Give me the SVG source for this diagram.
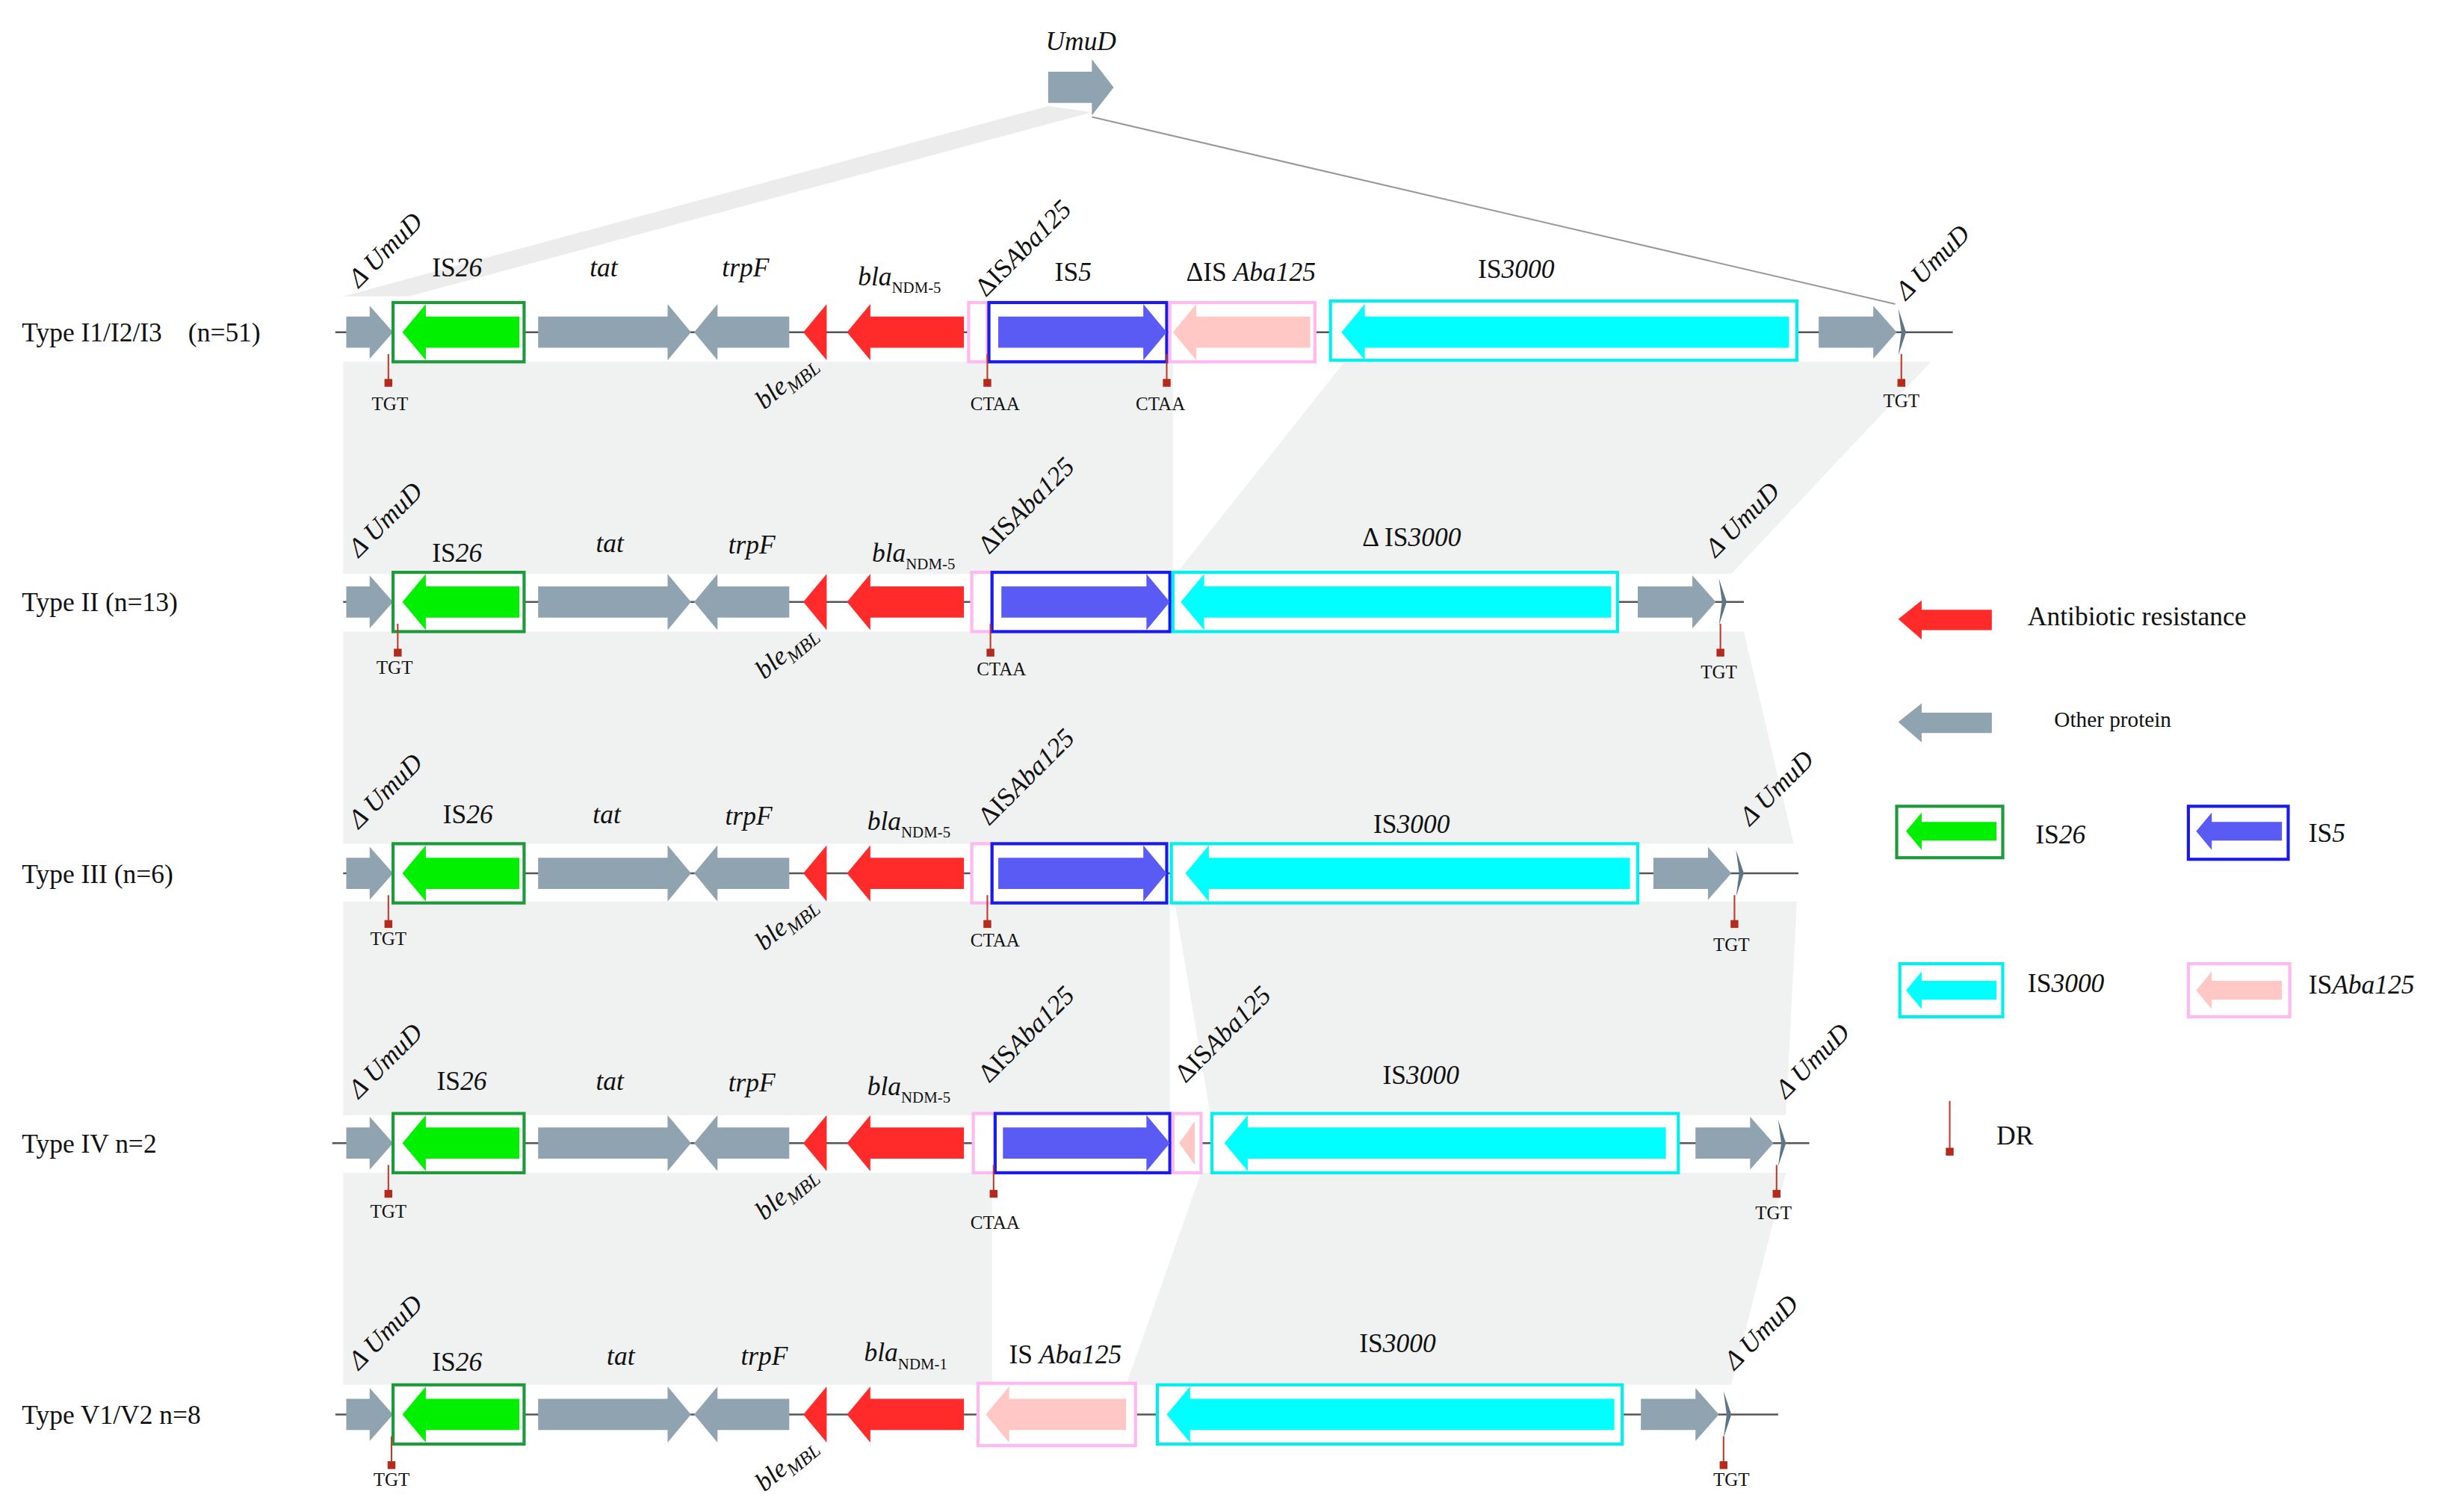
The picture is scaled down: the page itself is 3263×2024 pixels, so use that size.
<svg xmlns="http://www.w3.org/2000/svg" xmlns:xlink="http://www.w3.org/1999/xlink" width="3263" height="2024" viewBox="0 0 3263 2024">
<style>
text{font-family:"Liberation Serif","Times New Roman",serif;fill:#111}
.lb{font-size:17px}
.it{font-style:italic}
.sm{font-size:12px}
.gr{fill:#8fa3b0}
.rd{fill:#ff2b2b}
.gn{fill:#00f000}
.bl{fill:#5a5af5}
.cy{fill:#00ffff}
.pk{fill:#ffc8c4}
.ln{stroke:#555;stroke-width:1.2}
.sh{fill:#f0f1f1}
.dr{stroke:#c0392b;stroke-width:1}
.drs{fill:#b52a1a}
.sl{fill:#5d7585}
</style>
<defs>
<g id="common">
<path class="gr" d="M222 -10L237 -10L237 -17L252 0L237 17L237 10L222 10Z"/>
<rect x="252" y="-19" width="84" height="38" fill="#fff" stroke="#1d9a3a" stroke-width="2"/>
<path class="gn" d="M333 -10L273 -10L273 -18L258 0L273 18L273 10L333 10Z"/>
<path class="gr" d="M345 -10L428 -10L428 -18L443 0L428 18L428 10L345 10Z"/>
<path class="gr" d="M506 -10L460 -10L460 -18L445 0L460 18L460 10L506 10Z"/>
<path class="rd" d="M530 -18L515 0L530 18Z"/>
<path class="rd" d="M618 -10L558 -10L558 -18L543 0L558 18L558 10L618 10Z"/>
<text class="lb it" transform="translate(490,50) rotate(-40)">ble<tspan class="sm" dy="4" font-size="9">MBL</tspan></text>
<text class="lb it" transform="translate(230,-28) rotate(-45)">Δ UmuD</text>
</g>
<g id="dr"><line class="dr" x1="0" y1="14" x2="0" y2="32"/><rect class="drs" x="-2.5" y="30" width="5" height="5"/></g>
</defs>
<g transform="scale(2.0876)">
<g id="shading">
<path fill="#ececec" d="M672 68L700 72L262 190L220 190Z"/>
<line x1="700" y1="75" x2="1215" y2="195" stroke="#999" stroke-width="1"/>
<path class="sh" d="M220 232L752 232L752 368L220 368Z"/>
<path class="sh" d="M862 232L1238 232L1110 368L754 368Z"/>
<path class="sh" d="M220 405L1118 405L1150 541L220 541Z"/>
<path class="sh" d="M220 578L750 578L750 715L220 715Z"/>
<path class="sh" d="M753 578L1152 578L1145 715L776 715Z"/>
<path class="sh" d="M220 752L636 752L636 888L220 888Z"/>
<path class="sh" d="M770 752L1145 752L1110 888L722 888Z"/>
</g>
<g id="umud-top">
<path class="gr" d="M672 46L700 46L700 38L714 56L700 74L700 66L672 66Z"/>
<text class="lb it" x="693" y="32" text-anchor="middle">UmuD</text>
</g>

<g id="row1" transform="translate(0,213)">
<line class="ln" x1="215" y1="0" x2="1252" y2="0"/>
<use xlink:href="#common"/>
<rect x="621" y="-19" width="12" height="38" fill="#fff" stroke="#ffb8f0" stroke-width="2"/>
<rect x="634" y="-19" width="114" height="38" fill="#fff" stroke="#1a1aee" stroke-width="2"/>
<path class="bl" d="M640 -10L733 -10L733 -18L748 0L733 18L733 10L640 10Z"/>
<rect x="750" y="-19" width="93" height="38" fill="#fff" stroke="#ffb8f0" stroke-width="2"/>
<path class="pk" d="M840 -10L767 -10L767 -18L752 0L767 18L767 10L840 10Z"/>
<rect x="853" y="-20" width="299" height="38" fill="#fff" stroke="#00f0f0" stroke-width="2"/>
<path class="cy" d="M1147 -10L875 -10L875 -18L860 0L875 18L875 10L1147 10Z"/>
<path class="gr" d="M1166 -10L1201 -10L1201 -17L1216 0L1201 17L1201 10L1166 10Z"/>
<path class="sl" d="M1217 -15L1222 0L1217 15L1219 0Z"/>
<use xlink:href="#dr" x="249"/><use xlink:href="#dr" x="633"/><use xlink:href="#dr" x="748"/><use xlink:href="#dr" x="1219"/>
<text class="sm" x="250" y="50" text-anchor="middle">TGT</text>
<text class="sm" x="638" y="50" text-anchor="middle">CTAA</text>
<text class="sm" x="744" y="50" text-anchor="middle">CTAA</text>
<text class="sm" x="1219" y="48" text-anchor="middle">TGT</text>
<text class="lb" x="293" y="-36" text-anchor="middle">IS<tspan class="it">26</tspan></text>
<text class="lb it" x="387" y="-36" text-anchor="middle">tat</text>
<text class="lb it" x="478" y="-36" text-anchor="middle">trpF</text>
<text class="lb it" x="550" y="-30">bla<tspan font-size="10" font-style="normal" dy="5">NDM-5</tspan></text>
<text class="lb" transform="translate(632,-22) rotate(-45)">ΔIS<tspan class="it">Aba125</tspan></text>
<text class="lb" x="688" y="-33" text-anchor="middle">IS<tspan class="it">5</tspan></text>
<text class="lb" x="802" y="-33" text-anchor="middle">ΔIS <tspan class="it">Aba125</tspan></text>
<text class="lb" x="972" y="-35" text-anchor="middle">IS<tspan class="it">3000</tspan></text>
<text class="lb it" transform="translate(1222,-20) rotate(-45)">Δ UmuD</text>
<text class="lb" x="14" y="6">Type I1/I2/I3　(n=51)</text>
</g>

<g id="row2" transform="translate(0,386)">
<line class="ln" x1="220" y1="0" x2="1118" y2="0"/>
<use xlink:href="#common"/>
<rect x="623" y="-19" width="13" height="38" fill="#fff" stroke="#ffb8f0" stroke-width="2"/>
<rect x="636" y="-19" width="114" height="38" fill="#fff" stroke="#1a1aee" stroke-width="2"/>
<path class="bl" d="M642 -10L735 -10L735 -18L750 0L735 18L735 10L642 10Z"/>
<rect x="752" y="-19" width="285" height="38" fill="#fff" stroke="#00f0f0" stroke-width="2"/>
<path class="cy" d="M1033 -10L772 -10L772 -18L757 0L772 18L772 10L1033 10Z"/>
<path class="gr" d="M1050 -10L1085 -10L1085 -17L1100 0L1085 17L1085 10L1050 10Z"/>
<path class="sl" d="M1102 -15L1107 0L1102 15L1104 0Z"/>
<use xlink:href="#dr" x="255"/><use xlink:href="#dr" x="635"/><use xlink:href="#dr" x="1103"/>
<text class="sm" x="253" y="46" text-anchor="middle">TGT</text>
<text class="sm" x="642" y="47" text-anchor="middle">CTAA</text>
<text class="sm" x="1102" y="49" text-anchor="middle">TGT</text>
<text class="lb" x="293" y="-26" text-anchor="middle">IS<tspan class="it">26</tspan></text>
<text class="lb it" x="391" y="-32" text-anchor="middle">tat</text>
<text class="lb it" x="482" y="-31" text-anchor="middle">trpF</text>
<text class="lb it" x="559" y="-26">bla<tspan font-size="10" font-style="normal" dy="5">NDM-5</tspan></text>
<text class="lb" transform="translate(634,-30) rotate(-45)">ΔIS<tspan class="it">Aba125</tspan></text>
<text class="lb" x="905" y="-36" text-anchor="middle">Δ IS<tspan class="it">3000</tspan></text>
<text class="lb it" transform="translate(1100,-28) rotate(-45)">Δ UmuD</text>
<text class="lb" x="14" y="6">Type II (n=13)</text>
</g>

<g id="row3" transform="translate(0,560)">
<line class="ln" x1="220" y1="0" x2="1153" y2="0"/>
<use xlink:href="#common"/>
<rect x="623" y="-19" width="13" height="38" fill="#fff" stroke="#ffb8f0" stroke-width="2"/>
<rect x="636" y="-19" width="112" height="38" fill="#fff" stroke="#1a1aee" stroke-width="2"/>
<path class="bl" d="M640 -10L733 -10L733 -18L748 0L733 18L733 10L640 10Z"/>
<rect x="751" y="-19" width="299" height="38" fill="#fff" stroke="#00f0f0" stroke-width="2"/>
<path class="cy" d="M1045 -10L775 -10L775 -18L760 0L775 18L775 10L1045 10Z"/>
<path class="gr" d="M1060 -10L1095 -10L1095 -17L1110 0L1095 17L1095 10L1060 10Z"/>
<path class="sl" d="M1113 -15L1118 0L1113 15L1115 0Z"/>
<use xlink:href="#dr" x="249"/><use xlink:href="#dr" x="633"/><use xlink:href="#dr" x="1112"/>
<text class="sm" x="249" y="46" text-anchor="middle">TGT</text>
<text class="sm" x="638" y="47" text-anchor="middle">CTAA</text>
<text class="sm" x="1110" y="50" text-anchor="middle">TGT</text>
<text class="lb" x="300" y="-32" text-anchor="middle">IS<tspan class="it">26</tspan></text>
<text class="lb it" x="389" y="-32" text-anchor="middle">tat</text>
<text class="lb it" x="480" y="-31" text-anchor="middle">trpF</text>
<text class="lb it" x="556" y="-28">bla<tspan font-size="10" font-style="normal" dy="5">NDM-5</tspan></text>
<text class="lb" transform="translate(634,-30) rotate(-45)">ΔIS<tspan class="it">Aba125</tspan></text>
<text class="lb" x="905" y="-26" text-anchor="middle">IS<tspan class="it">3000</tspan></text>
<text class="lb it" transform="translate(1122,-30) rotate(-45)">Δ UmuD</text>
<text class="lb" x="14" y="6">Type III (n=6)</text>
</g>

<g id="row4" transform="translate(0,733)">
<line class="ln" x1="213" y1="0" x2="1160" y2="0"/>
<use xlink:href="#common"/>
<rect x="624" y="-19" width="14" height="38" fill="#fff" stroke="#ffb8f0" stroke-width="2"/>
<rect x="638" y="-19" width="112" height="38" fill="#fff" stroke="#1a1aee" stroke-width="2"/>
<path class="bl" d="M643 -10L735 -10L735 -18L750 0L735 18L735 10L643 10Z"/>
<rect x="752" y="-19" width="18" height="38" fill="#fff" stroke="#ffb8f0" stroke-width="2"/>
<path class="pk" d="M766 -14L756 0L766 14Z"/>
<rect x="777" y="-19" width="299" height="38" fill="#fff" stroke="#00f0f0" stroke-width="2"/>
<path class="cy" d="M1068 -10L800 -10L800 -18L785 0L800 18L800 10L1068 10Z"/>
<path class="gr" d="M1087 -10L1122 -10L1122 -17L1137 0L1122 17L1122 10L1087 10Z"/>
<path class="sl" d="M1140 -15L1145 0L1140 15L1142 0Z"/>
<use xlink:href="#dr" x="249"/><use xlink:href="#dr" x="637"/><use xlink:href="#dr" x="1139"/>
<text class="sm" x="249" y="48" text-anchor="middle">TGT</text>
<text class="sm" x="638" y="55" text-anchor="middle">CTAA</text>
<text class="sm" x="1137" y="49" text-anchor="middle">TGT</text>
<text class="lb" x="296" y="-34" text-anchor="middle">IS<tspan class="it">26</tspan></text>
<text class="lb it" x="391" y="-34" text-anchor="middle">tat</text>
<text class="lb it" x="482" y="-33" text-anchor="middle">trpF</text>
<text class="lb it" x="556" y="-31">bla<tspan font-size="10" font-style="normal" dy="5">NDM-5</tspan></text>
<text class="lb" transform="translate(634,-38) rotate(-45)">ΔIS<tspan class="it">Aba125</tspan></text>
<text class="lb" transform="translate(760,-38) rotate(-45)">ΔIS<tspan class="it">Aba125</tspan></text>
<text class="lb" x="911" y="-38" text-anchor="middle">IS<tspan class="it">3000</tspan></text>
<text class="lb it" transform="translate(1145,-28) rotate(-45)">Δ UmuD</text>
<text class="lb" x="14" y="6">Type IV n=2</text>
</g>

<g id="row5" transform="translate(0,907)">
<line class="ln" x1="215" y1="0" x2="1140" y2="0"/>
<use xlink:href="#common"/>
<rect x="627" y="-20" width="101" height="40" fill="#fff" stroke="#ffb8f0" stroke-width="2"/>
<path class="pk" d="M722 -10L647 -10L647 -18L632 0L647 18L647 10L722 10Z"/>
<rect x="742" y="-19" width="298" height="38" fill="#fff" stroke="#00f0f0" stroke-width="2"/>
<path class="cy" d="M1035 -10L763 -10L763 -18L748 0L763 18L763 10L1035 10Z"/>
<path class="gr" d="M1052 -10L1087 -10L1087 -17L1102 0L1087 17L1087 10L1052 10Z"/>
<path class="sl" d="M1105 -15L1110 0L1105 15L1107 0Z"/>
<use xlink:href="#dr" x="251"/><use xlink:href="#dr" x="1105"/>
<text class="sm" x="251" y="46" text-anchor="middle">TGT</text>
<text class="sm" x="1110" y="46" text-anchor="middle">TGT</text>
<text class="lb" x="293" y="-28" text-anchor="middle">IS<tspan class="it">26</tspan></text>
<text class="lb it" x="398" y="-32" text-anchor="middle">tat</text>
<text class="lb it" x="490" y="-32" text-anchor="middle">trpF</text>
<text class="lb it" x="554" y="-34">bla<tspan font-size="10" font-style="normal" dy="5">NDM-1</tspan></text>
<text class="lb" x="683" y="-33" text-anchor="middle">IS <tspan class="it">Aba125</tspan></text>
<text class="lb" x="896" y="-40" text-anchor="middle">IS<tspan class="it">3000</tspan></text>
<text class="lb it" transform="translate(1112,-28) rotate(-45)">Δ UmuD</text>
<text class="lb" x="14" y="6">Type  V1/V2 n=8</text>
</g>

<g id="legend">
<path class="rd" d="M1277 391L1232 391L1232 385L1217 397L1232 410L1232 404L1277 404Z"/>
<text class="lb" x="1300" y="401">Antibiotic resistance</text>
<path class="gr" d="M1277 457L1232 457L1232 451L1217 463L1232 476L1232 470L1277 470Z"/>
<text x="1317" y="466" font-size="14">Other protein</text>
<rect x="1216" y="517" width="68" height="33" fill="#fff" stroke="#1d9a3a" stroke-width="2"/>
<path class="gn" d="M1280 527L1232 527L1232 521L1222 533L1232 545L1232 539L1280 539Z"/>
<text class="lb" x="1305" y="541">IS<tspan class="it">26</tspan></text>
<rect x="1403" y="517" width="64" height="34" fill="#fff" stroke="#1a1aee" stroke-width="2"/>
<path class="bl" d="M1463 527L1418 527L1418 521L1408 533L1418 545L1418 539L1463 539Z"/>
<text class="lb" x="1480" y="540">IS<tspan class="it">5</tspan></text>
<rect x="1218" y="618" width="66" height="34" fill="#fff" stroke="#00f0f0" stroke-width="2"/>
<path class="cy" d="M1280 629L1232 629L1232 623L1222 635L1232 647L1232 641L1280 641Z"/>
<text class="lb" x="1300" y="636">IS<tspan class="it">3000</tspan></text>
<rect x="1403" y="618" width="65" height="34" fill="#fff" stroke="#ffb8f0" stroke-width="2"/>
<path class="pk" d="M1463 629L1418 629L1418 623L1408 635L1418 647L1418 641L1463 641Z"/>
<text class="lb" x="1480" y="637">IS<tspan class="it">Aba125</tspan></text>
<line class="dr" x1="1250" y1="706" x2="1250" y2="738"/>
<rect class="drs" x="1247.5" y="736" width="5" height="5"/>
<text class="lb" x="1280" y="734">DR</text>
</g>
</g>
</svg>
